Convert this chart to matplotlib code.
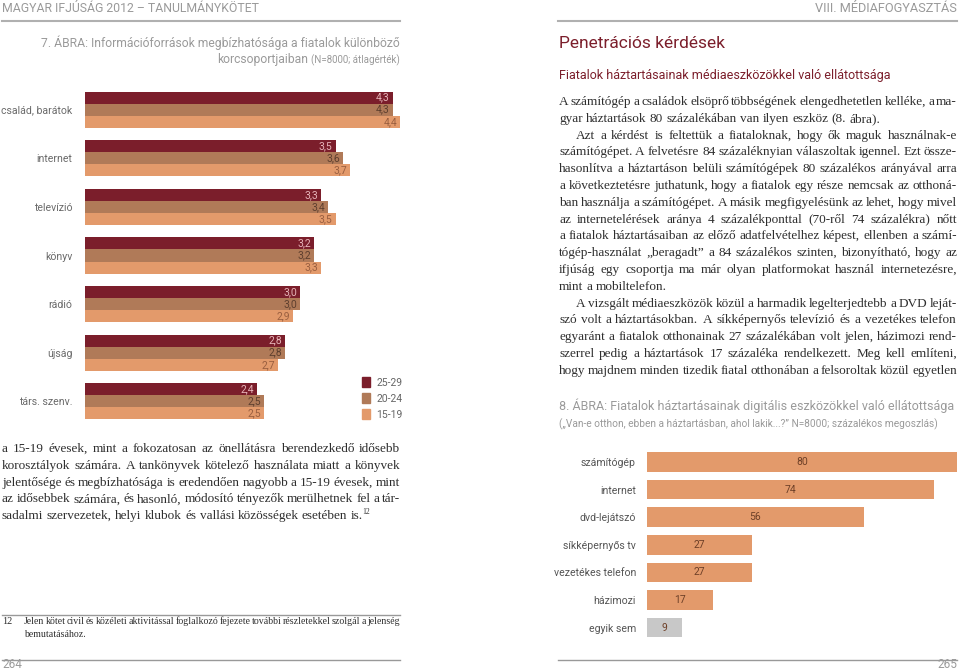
import matplotlib
matplotlib.use("Agg")
import matplotlib.pyplot as plt
from matplotlib.patches import Patch

# left chart: reliability of information sources by age group (mean values)
sources = ['család, barátok', 'internet', 'televízió', 'könyv', 'rádió', 'újság', 'társ. szenv.']
age_groups = ['25-29', '20-24', '15-19']
v_25_29 = [4.3, 3.5, 3.3, 3.2, 3.0, 2.8, 2.4]
v_20_24 = [4.3, 3.6, 3.4, 3.2, 3.0, 2.8, 2.5]
v_15_19 = [4.4, 3.7, 3.5, 3.3, 2.9, 2.7, 2.5]

# right chart: household media devices (%)
devices = ['számítógép', 'internet', 'dvd-lejátszó', 'síkképernyős tv',
           'vezetékes telefon', 'házimozi', 'egyik sem']
device_pct = [80, 74, 56, 27, 27, 17, 9]

left_par = [
    'a 15-19 évesek, mint a fokozatosan az önellátásra berendezkedő idősebb',
    'korosztályok számára. A tankönyvek kötelező használata miatt a könyvek',
    'jelentősége és megbízhatósága is eredendően nagyobb a 15-19 évesek, mint',
    'az idősebbek számára, és hasonló, módosító tényezők merülhetnek fel a tár-',
    'sadalmi szervezetek, helyi klubok és vallási közösségek esetében is.',
]
right_par = [
    'A számítógép a családok elsöprő többségének elengedhetetlen kelléke, a ma-',
    'gyar háztartások 80 százalékában van ilyen eszköz (8. ábra).',
    '\tAzt a kérdést is feltettük a fiataloknak, hogy ők maguk használnak-e',
    'számítógépet. A felvetésre 84 százaléknyian válaszoltak igennel. Ezt össze-',
    'hasonlítva a háztartáson belüli számítógépek 80 százalékos arányával arra',
    'a következtetésre juthatunk, hogy a fiatalok egy része nemcsak az otthoná-',
    'ban használja a számítógépet. A másik megfigyelésünk az lehet, hogy mivel',
    'az internetelérések aránya 4 százalékponttal (70-ről 74 százalékra) nőtt',
    'a fiatalok háztartásaiban az előző adatfelvételhez képest, ellenben a számí-',
    'tógép-használat „beragadt” a 84 százalékos szinten, bizonyítható, hogy az',
    'ifjúság egy csoportja ma már olyan platformokat használ internetezésre,',
    'mint a mobiltelefon.',
    '\tA vizsgált médiaeszközök közül a harmadik legelterjedtebb a DVD leját-',
    'szó volt a háztartásokban. A síkképernyős televízió és a vezetékes telefon',
    'egyaránt a fiatalok otthonainak 27 százalékában volt jelen, házimozi rend-',
    'szerrel pedig a háztartások 17 százaléka rendelkezett. Meg kell említeni,',
    'hogy majdnem minden tizedik fiatal otthonában a felsoroltak közül egyetlen',
]
right_last = {1, 11}

DARK = '#7b1e2b'
MID = '#b07a58'
LIGHT = '#e39a6b'
GREY = '#9a9a9a'
SANS = 'Roboto'
SERIF = 'Liberation Serif'
BODY = '#2e2e2e'

fig = plt.figure(figsize=(9.6, 6.7), dpi=100)
page = fig.add_axes([0, 0, 1, 1])
page.set_xlim(0, 960)
page.set_ylim(670, 0)
page.axis('off')
renderer = fig.canvas.get_renderer()


def text_width(s, **kw):
    t = page.text(0, 0, s, **kw)
    w = t.get_window_extent(renderer).width
    t.remove()
    return w


def needed_width(line, size, squeeze=0.7):
    kw = dict(fontsize=size, family=SERIF)
    ind = 17 if line.startswith('\t') else 0
    words = line.lstrip('\t').split(' ')
    space = text_width('a a', **kw) - 2 * text_width('a', **kw)
    return ind + sum(text_width(w, **kw) for w in words) + squeeze * space * (len(words) - 1)


def justified(line, x0, x1, y, justify=True, indent=17, **kw):
    if line.startswith('\t'):
        x0 += indent
        line = line[1:]
    words = line.split(' ')
    widths = [text_width(w, **kw) for w in words]
    space = text_width('a a', **kw) - 2 * text_width('a', **kw)
    if justify and len(words) > 1:
        gap = (x1 - x0 - sum(widths)) / (len(words) - 1)
    else:
        gap = space
    x = x0
    for w, wd in zip(words, widths):
        page.text(x, y + 4, w, ha='left', va='baseline', **kw)
        x += wd + gap
    return x - gap


# pick the body size so the tightest justified line still fits the 398 px column
justified_lines = left_par[:-1] + [l for i, l in enumerate(right_par) if i not in right_last]
widest = max(needed_width(l, 10) for l in justified_lines)
BODY_SIZE = min(10.5, 10 * 398 / widest)

# page headers
page.text(2, 8, 'MAGYAR IFJÚSÁG 2012 – TANULMÁNYKÖTET', fontsize=8.8, color=GREY,
          family=SANS, va='center', ha='left')
page.text(957, 8, 'VIII. MÉDIAFOGYASZTÁS', fontsize=9.2, color=GREY,
          family=SANS, va='center', ha='right')
page.plot([2, 400], [21, 21], color='#b0b0b0', lw=1.5)
page.plot([558, 957], [21, 21], color='#b0b0b0', lw=1.5)

# left figure title
page.text(400, 43, '7. ÁBRA: Információforrások megbízhatósága a fiatalok különböző',
          fontsize=8.7, color=GREY, family=SANS, ha='right', va='center')
sub = '(N=8000; átlagérték)'
page.text(400, 60, sub, fontsize=7, color=GREY, family=SANS, ha='right', va='center')
page.text(400 - text_width(sub, fontsize=7, family=SANS) - 3, 60, 'korcsoportjaiban',
          fontsize=8.7, color=GREY, family=SANS, ha='right', va='center')

# right section titles
page.text(559, 44, 'Penetrációs kérdések', fontsize=12.5, color=DARK, family=SANS,
          ha='left', va='center')
page.text(559, 75, 'Fiatalok háztartásainak médiaeszközökkel való ellátottsága',
          fontsize=9, color=DARK, family=SANS, ha='left', va='center')

# left chart
ax = fig.add_axes([85 / 960, 1 - 425.6 / 670, 358 / 960, 340.2 / 670])
h = 0.247
ypos = list(range(len(sources)))
series = [(v_25_29, DARK, '#e6b3b8', -h), (v_20_24, MID, '#5e3f2e', 0), (v_15_19, LIGHT, '#9a5f40', h)]
for (vals, col, tcol, off), lab in zip(series, age_groups):
    bars = ax.barh([y + off for y in ypos], vals, height=h, color=col, label=lab)
    for b, v in zip(bars, vals):
        ax.annotate(f'{v:.1f}'.replace('.', ','), (v, b.get_y() + h / 2),
                    xytext=(-3, 0), textcoords='offset pixels', ha='right', va='center',
                    fontsize=7.5, color=tcol, family=SANS)
ax.set_xlim(0, 5)
ax.set_ylim(len(sources) - 0.5, -0.5)
ax.set_yticks(ypos)
ax.set_yticklabels(sources, fontsize=7.6, color='#6a6a6a', family=SANS)
ax.tick_params(axis='y', length=0, pad=9)
ax.set_xticks([])
for s in ax.spines.values():
    s.set_visible(False)
ax.patch.set_alpha(0)
handles = [Patch(color=c) for c in (DARK, MID, LIGHT)]
leg = fig.legend(handles, age_groups, loc='upper left', bbox_to_anchor=(353 / 960, 1 - 368 / 670),
                 frameon=False, handlelength=0.75, handleheight=1.0, handletextpad=0.6,
                 labelspacing=0.55, prop={'family': SANS, 'size': 7.5})
for t in leg.get_texts():
    t.set_color('#666666')

# left body text
for i, line in enumerate(left_par):
    y = 448 + i * 16.8
    end = justified(line, 2, 400, y, justify=i < len(left_par) - 1,
                    fontsize=BODY_SIZE, family=SERIF, color=BODY)
page.text(end - 1, y - 3, '12', fontsize=5.5, family=SERIF, color=BODY, ha='left', va='center')

# footnote
page.plot([2, 400], [615, 615], color='#999999', lw=1)
page.text(2, 622, '12', fontsize=7.3, family=SERIF, color=BODY, ha='left', va='center')
foot = 'Jelen kötet civil és közéleti aktivitással foglalkozó fejezete további részletekkel szolgál a jelenség'
foot_size = min(7.6, 7.6 * 376 / needed_width(foot, 7.6))
justified(foot, 24, 400, 620, fontsize=foot_size, family=SERIF, color=BODY)
page.text(24, 637, 'bemutatásához.', fontsize=foot_size, family=SERIF, color=BODY,
          ha='left', va='baseline')
page.plot([2, 400], [660, 660], color='#999999', lw=1)
page.plot([558, 957], [660, 660], color='#999999', lw=1)
page.text(2, 665, '264', fontsize=8.5, family=SANS, color=GREY, ha='left', va='center')
page.text(957, 665, '265', fontsize=8.5, family=SANS, color=GREY, ha='right', va='center')

# right body text
for i, line in enumerate(right_par):
    justified(line, 559, 957, 101 + i * 16.8, justify=i not in right_last,
              fontsize=BODY_SIZE, family=SERIF, color=BODY)

# right figure title
page.text(559, 406, '8. ÁBRA: Fiatalok háztartásainak digitális eszközökkel való ellátottsága',
          fontsize=9, color=GREY, family=SANS, ha='left', va='center')
page.text(559, 424, '(„Van-e otthon, ebben a háztartásban, ahol lakik...?” N=8000; százalékos megoszlás)',
          fontsize=7.3, color=GREY, family=SANS, ha='left', va='center')

# right chart
ax2 = fig.add_axes([647 / 960, 1 - 641.4 / 670, 310 / 960, 193.2 / 670])
dpos = list(range(len(devices)))
cols = [LIGHT] * (len(devices) - 1) + ['#c8c8c8']
bars = ax2.barh(dpos, device_pct, height=0.71, color=cols)
for b, v in zip(bars, device_pct):
    ax2.text(v / 2, b.get_y() + b.get_height() / 2, str(v), ha='center', va='center',
             fontsize=7.5, color='#6e4028', family=SANS)
ax2.set_xlim(0, 80)
ax2.set_ylim(len(devices) - 0.5, -0.5)
ax2.set_yticks(dpos)
ax2.set_yticklabels(devices, fontsize=7.6, color='#555555', family=SANS)
ax2.tick_params(axis='y', length=0, pad=8)
ax2.set_xticks([])
for s in ax2.spines.values():
    s.set_visible(False)
ax2.patch.set_alpha(0)

fig.savefig('out.png', dpi=100)
